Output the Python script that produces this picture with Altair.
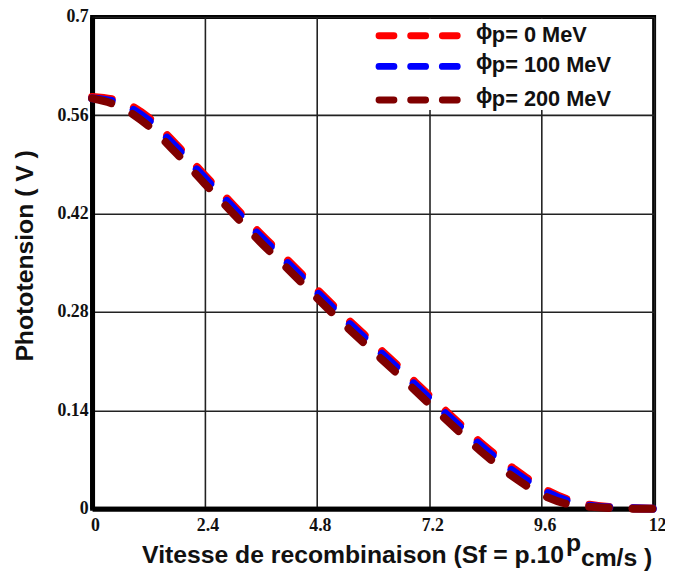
import altair as alt
import pandas as pd

# ---- data ----
x_vals = [0, 0.6, 1.2, 1.8, 2.4, 3.0, 3.6, 4.2, 4.8, 5.4, 6.0, 6.6, 7.2, 7.8, 8.4, 9.0, 9.6, 10.2, 10.8, 11.4, 12.0]
v_0MeV = [0.586, 0.580, 0.557, 0.518, 0.475, 0.433, 0.391, 0.352, 0.312, 0.273, 0.236, 0.199, 0.161, 0.124, 0.088, 0.057, 0.030, 0.012, 0.004, 0.001, 0.000]
v_100MeV = [0.584, 0.577, 0.553, 0.514, 0.471, 0.429, 0.387, 0.348, 0.308, 0.269, 0.232, 0.195, 0.157, 0.120, 0.084, 0.053, 0.027, 0.010, 0.003, 0.001, 0.000]
v_200MeV = [0.584, 0.572, 0.545, 0.506, 0.463, 0.421, 0.379, 0.340, 0.300, 0.261, 0.224, 0.187, 0.149, 0.112, 0.076, 0.045, 0.020, 0.006, 0.002, 0.000, 0.000]

series_names = ["0 MeV", "100 MeV", "200 MeV"]
series_colors = ["#ff0000", "#0000ff", "#800000"]
x_ticks = [0, 2.4, 4.8, 7.2, 9.6, 12]
y_ticks = [0, 0.14, 0.28, 0.42, 0.56, 0.7]

rows = []
for name, vals in zip(series_names, [v_0MeV, v_100MeV, v_200MeV]):
    for xv, yv in zip(x_vals, vals):
        rows.append({"sf": xv, "v": yv, "serie": name})
df = pd.DataFrame(rows)

W, H = 568, 497
one = pd.DataFrame({"k": [0]})
TXT = "#111111"

lines = alt.Chart(df).mark_line(
    strokeWidth=8, strokeDash=[20, 24], strokeCap="round", interpolate="monotone"
).encode(
    x=alt.X("sf:Q", scale=alt.Scale(domain=[0, 12], nice=False, zero=False),
            axis=alt.Axis(values=x_ticks, format=".1~f", title=None, grid=True,
                          ticks=False, tickSize=0, labelOffset=3, labelPadding=8,
                          labelBaseline="top", labelFlush=False, labelOverlap=False)),
    y=alt.Y("v:Q", scale=alt.Scale(domain=[0, 0.7], nice=False),
            axis=alt.Axis(values=y_ticks, format=".2~f", title="Phototension ( V )",
                          grid=True, ticks=False, tickSize=0, labelPadding=4,
                          labelFlush=False, labelOverlap=False,
                          titleX=-60, titleY=241, titleAngle=270,
                          titleAlign="center", titleBaseline="alphabetic")),
    color=alt.Color("serie:N", scale=alt.Scale(domain=series_names, range=series_colors), legend=None),
)

layers = [lines]

# legend box
layers.append(alt.Chart(one).mark_rect(color="white").encode(
    x=alt.value(262), x2=alt.value(564), y=alt.value(2), y2=alt.value(94)))

legend_rows = [19, 50, 84]
for name, col, ry in zip(series_names, series_colors, legend_rows):
    layers.append(alt.Chart(one).mark_rule(
        color=col, strokeWidth=7, strokeDash=[15, 17], strokeCap="round"
    ).encode(x=alt.value(290), x2=alt.value(370), y=alt.value(ry)))
    layers.append(alt.Chart(one).mark_text(
        text="ϕ", font="Liberation Sans", fontWeight="bold", fontSize=22,
        align="left", baseline="alphabetic", color=TXT
    ).encode(x=alt.value(388), y=alt.value(ry + 3)))
    layers.append(alt.Chart(one).mark_text(
        text="p= " + name, font="Liberation Sans", fontWeight="bold", fontSize=22,
        align="left", baseline="alphabetic", color=TXT
    ).encode(x=alt.value(404), y=alt.value(ry + 6)))

# x axis title with super/subscript parts
title_font = dict(font="Liberation Sans", fontWeight="bold", fontSize=25, color=TXT, baseline="alphabetic")
layers.append(alt.Chart(one).mark_text(
    text="Vitesse de recombinaison (Sf = p.10", align="right", **title_font
).encode(x=alt.value(477), y=alt.value(552)))
layers.append(alt.Chart(one).mark_text(
    text="p", align="left", **title_font
).encode(x=alt.value(479), y=alt.value(540)))
layers.append(alt.Chart(one).mark_text(
    text="cm/s )", align="left", **title_font
).encode(x=alt.value(494), y=alt.value(555)))

chart = alt.layer(*layers).properties(
    width=W, height=H,
    autosize=alt.AutoSizeParams(type="none"),
    padding={"left": 85, "top": 6, "right": 11, "bottom": 64},
).configure_view(
    stroke="black", strokeWidth=4
).configure_axis(
    domainColor="black", domainWidth=5,
    gridColor="#222222", gridWidth=1.6, gridOpacity=1,
    labelFont="Liberation Serif", labelFontWeight="bold", labelFontSize=18, labelColor=TXT,
    titleFont="Liberation Sans", titleFontWeight="bold", titleFontSize=25, titleColor=TXT,
)

chart.save("out.html", embed_options={"renderer": "svg", "actions": False})
